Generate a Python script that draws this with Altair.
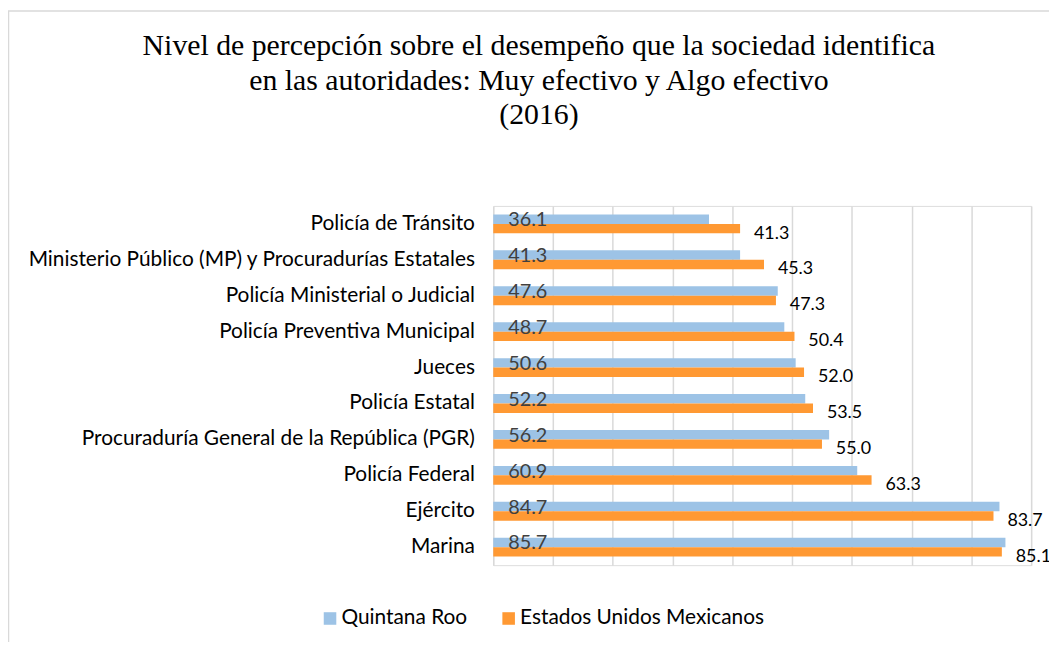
import altair as alt
import pandas as pd

categorias = [
    "Policía de Tránsito",
    "Ministerio Público (MP) y Procuradurías Estatales",
    "Policía Ministerial o Judicial",
    "Policía Preventiva Municipal",
    "Jueces",
    "Policía Estatal",
    "Procuraduría General de la República (PGR)",
    "Policía Federal",
    "Ejército",
    "Marina",
]
quintana_roo = [36.1, 41.3, 47.6, 48.7, 50.6, 52.2, 56.2, 60.9, 84.7, 85.7]
nacional = [41.3, 45.3, 47.3, 50.4, 52.0, 53.5, 55.0, 63.3, 83.7, 85.1]
series = ["Quintana Roo", "Estados Unidos Mexicanos"]
colores = ["#9DC3E6", "#FF9933"]
titulo = [
    "Nivel de percepción sobre el desempeño que la sociedad identifica",
    "en las autoridades: Muy efectivo y Algo efectivo",
    "(2016)",
]

rows = []
for c, q, n in zip(categorias, quintana_roo, nacional):
    rows.append({"cat": c, "serie": series[0], "valor": q})
    rows.append({"cat": c, "serie": series[1], "valor": n})
df = pd.DataFrame(rows)

FONT = "Lato"

y_enc = alt.Y(
    "cat:N",
    sort=categorias,
    scale=alt.Scale(paddingInner=0.475, paddingOuter=0.2375),
    axis=alt.Axis(
        title=None, ticks=False, domain=False, labelFont=FONT, labelFontSize=21,
        labelColor="#000000", labelPadding=19, labelLimit=600,
    ),
)
yoff_enc = alt.YOffset(
    "serie:N", sort=series,
    scale=alt.Scale(domain=series, paddingInner=0, paddingOuter=0),
)

base = alt.Chart(df)

bars = base.mark_bar().encode(
    x=alt.X(
        "valor:Q",
        scale=alt.Scale(domain=[0, 90], nice=False),
        axis=alt.Axis(
            values=list(range(0, 100, 10)), labels=False, ticks=False, domain=False,
            grid=True, gridColor="#d9d9d9", gridWidth=1.5, title=None,
        ),
    ),
    y=y_enc,
    yOffset=yoff_enc,
    color=alt.Color(
        "serie:N",
        scale=alt.Scale(domain=series, range=colores),
        legend=alt.Legend(
            orient="none", legendX=-175, legendY=405, direction="horizontal",
            title=None, symbolType="square", symbolSize=160, symbolStrokeWidth=0,
            labelFont=FONT, labelFontSize=21, labelColor="#000000", labelLimit=500,
            columnPadding=31, labelOffset=1,
        ),
    ),
)

lbl_qroo = base.transform_filter(alt.datum.serie == series[0]).mark_text(
    align="left", baseline="middle", dx=15, dy=1, font=FONT, fontSize=20, color="#404040"
).encode(
    x=alt.datum(0),
    y=alt.Y("cat:N", sort=categorias),
    yOffset=yoff_enc,
    text=alt.Text("valor:Q", format=".1f"),
)

lbl_nac = base.transform_filter(alt.datum.serie == series[1]).mark_text(
    align="left", baseline="middle", dx=14, dy=5, font=FONT, fontSize=18, color="#000000"
).encode(
    x=alt.X("valor:Q"),
    y=alt.Y("cat:N", sort=categorias),
    yOffset=yoff_enc,
    text=alt.Text("valor:Q", format=".1f"),
)

frame = alt.Chart(pd.DataFrame({"a": [0]})).mark_rect(
    fillOpacity=0, stroke="#d9d9d9", strokeWidth=1.5
).encode(
    x=alt.value(-488.5), y=alt.value(-196.5), x2=alt.value(620), y2=alt.value(520)
)

chart = alt.layer(frame, bars, lbl_qroo, lbl_nac).properties(
    width=542,
    height=362,
    autosize=alt.AutoSizeParams(type="none"),
    padding={"left": 489, "top": 197, "right": 18, "bottom": 75},
    title=alt.TitleParams(
        text=titulo, font="Liberation Serif", fontSize=30, fontWeight="normal",
        color="#000000", anchor="middle", frame="group", dx=-225, offset=-121,
        lineHeight=35,
    ),
).configure_view(stroke=None).configure(background="white")

chart.save("out.html", embed_options={"renderer": "svg", "actions": False})
